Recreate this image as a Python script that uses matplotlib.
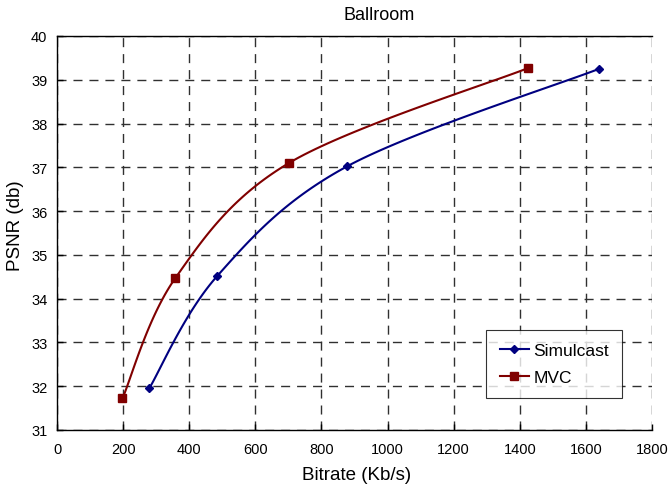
import numpy as np
import matplotlib
matplotlib.use("Agg")
import matplotlib.pyplot as plt

plt.rcParams['font.family'] = ['Liberation Sans', 'DejaVu Sans']

# data
sim_rate = [279, 485, 877, 1640]
sim_psnr = [31.95, 34.52, 37.02, 39.25]
mvc_rate = [198, 358, 702, 1426]
mvc_psnr = [31.72, 34.47, 37.10, 39.27]

def smooth(x, y, n=40):
    # excel-like smoothed line (catmull-rom bezier between the points)
    p = np.column_stack([x, y]).astype(float)
    p = np.vstack([p[0], p, p[-1]])
    out = []
    t = np.linspace(0, 1, n)[:, None]
    for i in range(1, len(p) - 2):
        b0 = p[i]
        b3 = p[i + 1]
        b1 = b0 + (p[i + 1] - p[i - 1]) / 6
        b2 = b3 - (p[i + 2] - p[i]) / 6
        seg = (1-t)**3*b0 + 3*(1-t)**2*t*b1 + 3*(1-t)*t**2*b2 + t**3*b3
        out.append(seg)
    out = np.vstack(out)
    return out[:, 0], out[:, 1]

W, H = 668, 485
fig = plt.figure(figsize=(W/100, H/100), dpi=100)
ax = fig.add_axes([57/W, 1-431/H, 595/W, 394/H])

navy = '#000080'
dred = '#800000'

xs, ys = smooth(sim_rate, sim_psnr)
ax.plot(xs, ys, color=navy, lw=1.5)
ax.plot(sim_rate, sim_psnr, 'D', color=navy, ms=4.5)
xs, ys = smooth(mvc_rate, mvc_psnr)
ax.plot(xs, ys, color=dred, lw=1.5)
ax.plot(mvc_rate, mvc_psnr, 's', color=dred, ms=5.5)

# legend handles
ax.plot([], [], color=navy, lw=1.5, marker='D', ms=4.5, label='Simulcast')
ax.plot([], [], color=dred, lw=1.5, marker='s', ms=5.5, label='MVC')

ax.set_xlim(0, 1800)
ax.set_ylim(31, 40)
ax.set_xticks(np.arange(0, 1801, 200))
ax.set_yticks(np.arange(31, 41, 1))
ax.tick_params(direction='in', length=4, width=1, labelsize=10.5)
ax.tick_params(axis='x', pad=9)
ax.tick_params(axis='y', pad=7)
ax.grid(True, color='#303030', ls=(0, (6.5, 5)), lw=1.0)
ax.spines['right'].set_visible(False)
for s in ['left', 'bottom', 'top']:
    ax.spines[s].set_linewidth(1.0)

fig.text(379/W, 1-15/H, 'Ballroom', fontsize=13, ha='center', va='center')
fig.text(357/W, 1-476/H, 'Bitrate (Kb/s)', fontsize=13.5, ha='center', va='center')
fig.text(16/W, 1-226/H, 'PSNR (db)', fontsize=13.5, ha='center', va='center', rotation=90)

leg = ax.legend(loc='lower right', bbox_to_anchor=(622/W, 1-399/H), bbox_transform=fig.transFigure,
                fontsize=12.5, frameon=True, fancybox=False, edgecolor='black',
                handlelength=1.7, labelspacing=0.7, borderpad=0.75, handletextpad=0.25,
                borderaxespad=0)
leg.get_frame().set_linewidth(0.8)

fig.savefig('out.png', dpi=100)
